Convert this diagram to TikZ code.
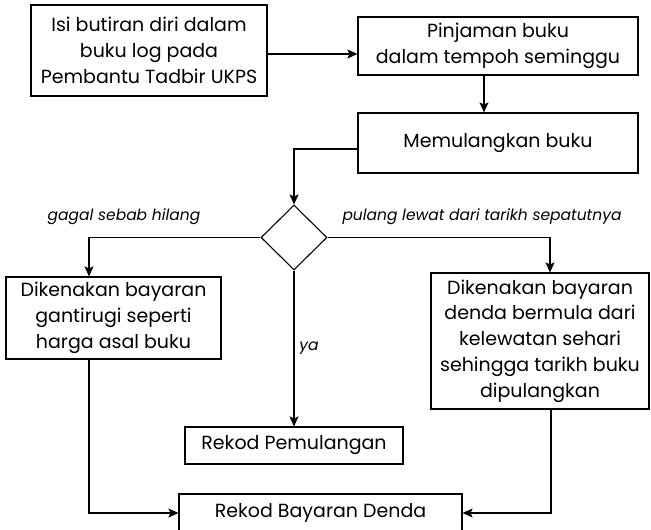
\documentclass[tikz,border=0pt]{standalone}
\usepackage{fontspec}
\setmainfont{Poppins}
\usetikzlibrary{shapes.geometric,arrows.meta}

\begin{document}
\begin{tikzpicture}[x=1pt,y=-1pt,
  box/.style={draw, line width=1.1pt, align=center, inner sep=0pt,
              font=\fontsize{19}{25.8}\selectfont},
  flow/.style={draw, line width=1.1pt, -{Stealth[length=10pt,width=9pt,inset=2pt]}},
  cond/.style={font=\itshape\fontsize{15.5}{18}\selectfont}]
\useasboundingbox (0,0) rectangle (651,530);

% process boxes
\node[box, minimum width=236pt, minimum height=91pt] (reg) at (149,50.5)
  {Isi butiran diri dalam\\ buku log pada\\ Pembantu Tadbir UKPS};
\node[box, minimum width=280pt, minimum height=58pt] (loan) at (498,46)
  {Pinjaman buku\\ dalam tempoh seminggu};
\node[box, minimum width=280pt, minimum height=60pt] (ret) at (498,143)
  {Memulangkan buku};
\node[draw, diamond, line width=1.1pt, minimum width=66pt, minimum height=65pt,
      inner sep=0pt] (dec) at (294,237.5) {};
\node[box, minimum width=215pt, minimum height=82pt] (lost) at (113.5,318)
  {Dikenakan bayaran\\ gantirugi seperti\\ harga asal buku};
\node[box, minimum width=218pt, minimum height=136pt] (late) at (540,341)
  {Dikenakan bayaran\\ denda bermula dari\\ kelewatan sehari\\ sehingga tarikh buku\\ dipulangkan};
\node[box, minimum width=218pt, minimum height=37pt] (rec) at (294,445.5)
  {Rekod Pemulangan};
\node[box, minimum width=283pt, minimum height=38pt] (fee) at (320.5,513)
  {Rekod Bayaran Denda};

% branch labels
\node[cond] (lblost) at (124,217) {gagal sebab hilang};
\node[cond] (lblate) at (482,217) {pulang lewat dari tarikh sepatutnya};
\node[cond] (lbok) at (309,348) {ya};

% connectors
\draw[flow] ([yshift=-3.5pt]reg.east) -- ([yshift=-8pt]loan.west);
\draw[flow] ([xshift=-14pt]loan.south) -- ([xshift=-14pt]ret.north);
\draw[flow] ([yshift=-6pt]ret.west) -| (dec.north);
\draw[flow] (dec.west) -| ([xshift=-24.5pt]lost.north);
\draw[flow] (dec.east) -| ([xshift=10pt]late.north);
\draw[flow] (dec.south) -- (rec.north);
\draw[flow] ([xshift=-24.5pt]lost.south) |- (fee.west);
\draw[flow] ([xshift=11pt]late.south) |- (fee.east);
\end{tikzpicture}
\end{document}
